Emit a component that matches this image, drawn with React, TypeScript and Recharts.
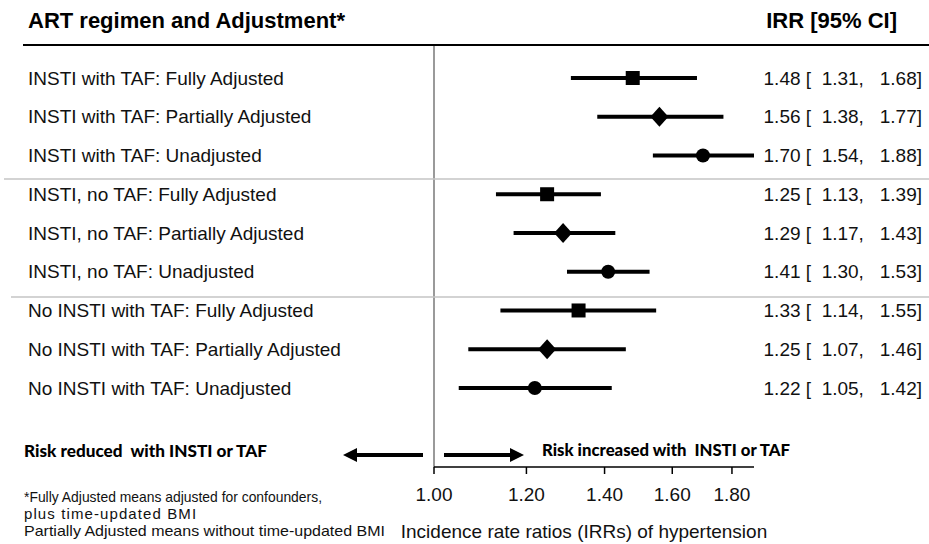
import React from "react";
import { ScatterChart, Scatter, XAxis, YAxis, ErrorBar, ReferenceLine } from "recharts";

const rowLabels = [
  "INSTI with TAF: Fully Adjusted",
  "INSTI with TAF: Partially Adjusted",
  "INSTI with TAF: Unadjusted",
  "INSTI, no TAF: Fully Adjusted",
  "INSTI, no TAF: Partially Adjusted",
  "INSTI, no TAF: Unadjusted",
  "No INSTI with TAF: Fully Adjusted",
  "No INSTI with TAF: Partially Adjusted",
  "No INSTI with TAF: Unadjusted",
];
const irrValues = [1.48, 1.56, 1.7, 1.25, 1.29, 1.41, 1.33, 1.25, 1.22];
const ciLower = [1.31, 1.38, 1.54, 1.13, 1.17, 1.3, 1.14, 1.07, 1.05];
const ciUpper = [1.68, 1.77, 1.88, 1.39, 1.43, 1.53, 1.55, 1.46, 1.42];
const markerTypes = ["square", "diamond", "circle", "square", "diamond", "circle", "square", "diamond", "circle"];
const xTicks = [1.0, 1.2, 1.4, 1.6, 1.8];
const xDomain = [1, 1.88];
const rowTicks = [0, 1, 2, 3, 4, 5, 6, 7, 8];
const yDomain = [-0.826, 10.04];
const axisTitle = "Incidence rate ratios (IRRs) of hypertension";
const headerLeft = "ART regimen and Adjustment*";
const headerRight = "IRR [95% CI]";
const riskReduced = "Risk reduced\u00A0 with INSTI or TAF";
const riskIncreased = "Risk increased with\u00A0 INSTI or TAF";
const footnotes = [
  "*Fully Adjusted means adjusted for confounders,",
  "plus time-updated BMI",
  "Partially Adjusted means without time-updated BMI",
];

const FONT = "'Liberation Sans', Arial, sans-serif";
const BOLD_FONT = "Lato, 'Open Sans', sans-serif";
const NB = "\u00A0";

const data = rowLabels.map((label, i) => ({
  row: i,
  label,
  irr: irrValues[i],
  lo: ciLower[i],
  hi: ciUpper[i],
  err: [irrValues[i] - ciLower[i], ciUpper[i] - irrValues[i]],
  type: markerTypes[i],
}));

const ciText = (i: number) =>
  `${irrValues[i].toFixed(2)}${NB}[${NB}${NB}${ciLower[i].toFixed(2)},${NB}${NB}${NB}${ciUpper[i].toFixed(2)}]`;

const LeftTick = (props: any) => {
  const { y, payload } = props;
  return (
    <text x={28} y={y} dy="0.355em" fontSize={19} fill="#111" fontFamily={FONT} textAnchor="start">
      {rowLabels[payload.value]}
    </text>
  );
};

const RightTick = (props: any) => {
  const { y, payload } = props;
  return (
    <text x={922} y={y} dy="0.355em" fontSize={19} fill="#111" fontFamily={FONT} textAnchor="end">
      {ciText(payload.value)}
    </text>
  );
};

const SquareShape = (p: any) => <rect x={p.cx - 7} y={p.cy - 7} width={14} height={14} fill="#000" />;
const DiamondShape = (p: any) => (
  <polygon points={`${p.cx},${p.cy - 10} ${p.cx + 9},${p.cy} ${p.cx},${p.cy + 10} ${p.cx - 9},${p.cy}`} fill="#000" />
);
const CircleShape = (p: any) => <circle cx={p.cx} cy={p.cy} r={7} fill="#000" />;

const shapeFor: Record<string, any> = { square: SquareShape, diamond: DiamondShape, circle: CircleShape };

export default function App() {
  const groups = ["square", "diamond", "circle"];
  return (
    <div style={{ position: "absolute", left: 0, top: 0, width: 929, height: 544, background: "#fff", fontFamily: FONT }}>
      <ScatterChart width={929} height={544} margin={{ top: 46, right: 0, bottom: 0, left: 0 }}>
        <XAxis
          type="number"
          dataKey="irr"
          scale="log"
          domain={xDomain}
          ticks={xTicks}
          interval={0}
          allowDataOverflow
          tickFormatter={(v: number) => v.toFixed(2)}
          height={77}
          tickSize={7}
          tickMargin={14}
          tick={{ fontSize: 19, fill: "#111", fontFamily: FONT }}
          axisLine={{ stroke: "#000", strokeWidth: 1.5 }}
          tickLine={{ stroke: "#000", strokeWidth: 1.5 }}
          label={{ value: axisTitle, position: "insideBottom", offset: 6, dx: -10, fontSize: 19, fill: "#111", fontFamily: FONT }}
        />
        <YAxis
          yAxisId="l"
          type="number"
          dataKey="row"
          domain={yDomain}
          reversed
          allowDataOverflow
          ticks={rowTicks}
          interval={0}
          width={434}
          axisLine={false}
          tickLine={false}
          tick={<LeftTick />}
        />
        <YAxis
          yAxisId="r"
          orientation="right"
          type="number"
          domain={yDomain}
          reversed
          allowDataOverflow
          ticks={rowTicks}
          interval={0}
          width={175}
          axisLine={false}
          tickLine={false}
          tick={<RightTick />}
        />
        <ReferenceLine yAxisId="l" x={1} stroke="#9a9a9a" strokeWidth={2} />
        {groups.map((g) => (
          <Scatter
            key={g}
            yAxisId="l"
            data={data.filter((d) => d.type === g)}
            fill="#000"
            shape={shapeFor[g]}
            isAnimationActive={false}
          >
            <ErrorBar dataKey="err" direction="x" width={0} strokeWidth={4} stroke="#000" isAnimationActive={false} />
          </Scatter>
        ))}
      </ScatterChart>
      <svg
        width={929}
        height={544}
        style={{ position: "absolute", left: 0, top: 0, pointerEvents: "none" }}
      >
        <text x={28} y={28} fontSize={22} fontWeight="bold" fill="#000" fontFamily={FONT}>{headerLeft}</text>
        <text x={897} y={28} fontSize={22} fontWeight="bold" fill="#000" fontFamily={FONT} textAnchor="end">{headerRight}</text>
        <line x1={23} x2={929} y1={45} y2={45} stroke="#000" strokeWidth={2} />
        <line x1={4} x2={929} y1={179} y2={179} stroke="#c4c4c4" strokeWidth={1.5} />
        <line x1={11} x2={929} y1={297} y2={297} stroke="#c4c4c4" strokeWidth={1.5} />
        <line x1={423} x2={355} y1={455} y2={455} stroke="#000" strokeWidth={4} />
        <polygon points="343,455 357,448 357,462" fill="#000" />
        <line x1={444} x2={512} y1={455} y2={455} stroke="#000" strokeWidth={4} />
        <polygon points="524,455 510,448 510,462" fill="#000" />
        <text x={24} y={457} fontSize={16.5} fontWeight={900} fill="#000" fontFamily={BOLD_FONT} textLength={243} lengthAdjust="spacingAndGlyphs">{riskReduced}</text>
        <text x={542} y={456} fontSize={16.5} fontWeight={900} fill="#000" fontFamily={BOLD_FONT} textLength={248} lengthAdjust="spacingAndGlyphs">{riskIncreased}</text>
        <text x={24} y={502} fontSize={15} fill="#111" fontFamily={FONT} textLength={298} lengthAdjust="spacingAndGlyphs">{footnotes[0]}</text>
        <text x={24} y={519} fontSize={15} fill="#111" fontFamily={FONT} letterSpacing={1.1}>{footnotes[1]}</text>
        <text x={24} y={536} fontSize={15} fill="#111" fontFamily={FONT} textLength={361} lengthAdjust="spacingAndGlyphs">{footnotes[2]}</text>
      </svg>
    </div>
  );
}
